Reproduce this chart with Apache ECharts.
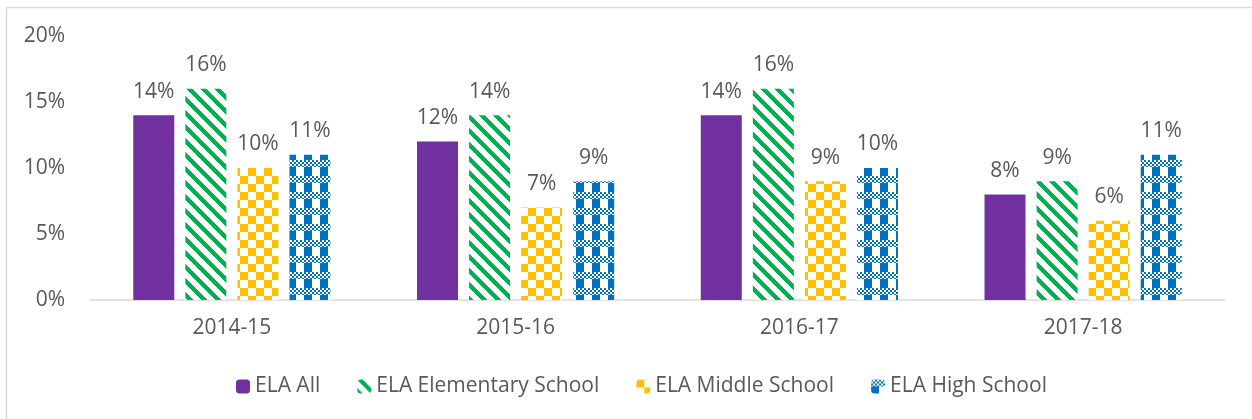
<!DOCTYPE html>
<html>
<head>
<meta charset="utf-8">
<script src="https://cdn.jsdelivr.net/npm/echarts@6/dist/echarts.min.js"></script>
<style>
html,body{margin:0;padding:0;background:#fff;}
#chart{width:1252px;height:419px;}
</style>
</head>
<body>
<div id="chart"></div>
<script>
const categories = ['2014-15', '2015-16', '2016-17', '2017-18'];
const seriesNames = ['ELA All', 'ELA Elementary School', 'ELA Middle School', 'ELA High School'];
const elaAll = [14, 12, 14, 8];
const elaElementary = [16, 14, 16, 9];
const elaMiddle = [10, 7, 9, 6];
const elaHigh = [11, 9, 10, 11];
const yTicks = [0, 5, 10, 15, 20];

function makeTile(size, fn, color) {
  const c = document.createElement('canvas');
  c.width = size; c.height = size;
  const ctx = c.getContext('2d');
  ctx.fillStyle = '#ffffff';
  ctx.fillRect(0, 0, size, size);
  ctx.fillStyle = color;
  for (let y = 0; y < size; y++) {
    for (let x = 0; x < size; x++) {
      if (fn(x, y)) ctx.fillRect(x, y, 1, 1);
    }
  }
  return c;
}
const purple = '#7030A0';
const greenTile = makeTile(14, (x, y) => (((x - y) % 14) + 14) % 14 < 6, '#00B050');
const yellowTile = makeTile(16, (x, y) => ((Math.floor(x / 8) + Math.floor(y / 8)) % 2) === 0, '#FFC000');
const blueTile = makeTile(16, (x, y) => {
  if (y < 7) return ((Math.floor(x / 2) + Math.floor(y / 2)) % 2) === 0;
  return (x % 16) < 8;
}, '#0070C0');

const fills = [
  purple,
  { image: greenTile, repeat: 'repeat' },
  { image: yellowTile, repeat: 'repeat' },
  { image: blueTile, repeat: 'repeat' }
];
const dataSets = [elaAll, elaElementary, elaMiddle, elaHigh];
const textColor = '#595959';
const font = 'Open Sans';

const chart = echarts.init(document.getElementById('chart'), null, { renderer: 'canvas' });
chart.setOption({
  animation: false,
  backgroundColor: '#ffffff',
  textStyle: { fontFamily: font },
  graphic: [{
    type: 'rect',
    shape: { x: 6.5, y: 7.5, width: 1400, height: 600 },
    style: { fill: 'none', stroke: '#D9D9D9', lineWidth: 1.5 },
    silent: true
  }],
  grid: { left: 90, right: 27, top: 36, bottom: 119, containLabel: false },
  legend: {
    bottom: 17,
    left: 231,
    itemWidth: 14,
    itemHeight: 14,
    itemGap: 37,
    textStyle: { color: textColor, fontSize: 21, fontFamily: font },
    data: seriesNames
  },
  xAxis: {
    type: 'category',
    data: categories,
    axisLine: { lineStyle: { color: '#D9D9D9', width: 1.5 } },
    axisTick: { show: false },
    axisLabel: { color: textColor, fontSize: 21, fontFamily: font, margin: 18 }
  },
  yAxis: {
    type: 'value',
    min: 0,
    max: 20,
    interval: 5,
    splitLine: { show: false },
    axisLine: { show: false },
    axisTick: { show: false },
    axisLabel: {
      color: textColor, fontSize: 21, fontFamily: font, margin: 25,
      formatter: v => v + '%'
    }
  },
  series: dataSets.map((d, i) => ({
    name: seriesNames[i],
    type: 'bar',
    data: d,
    barWidth: 41,
    barGap: '27%',
    itemStyle: { color: fills[i] },
    label: {
      show: true,
      position: 'top',
      distance: 13,
      color: textColor,
      fontSize: 21,
      fontFamily: font,
      formatter: p => p.value + '%'
    }
  }))
});
</script>
</body>
</html>
